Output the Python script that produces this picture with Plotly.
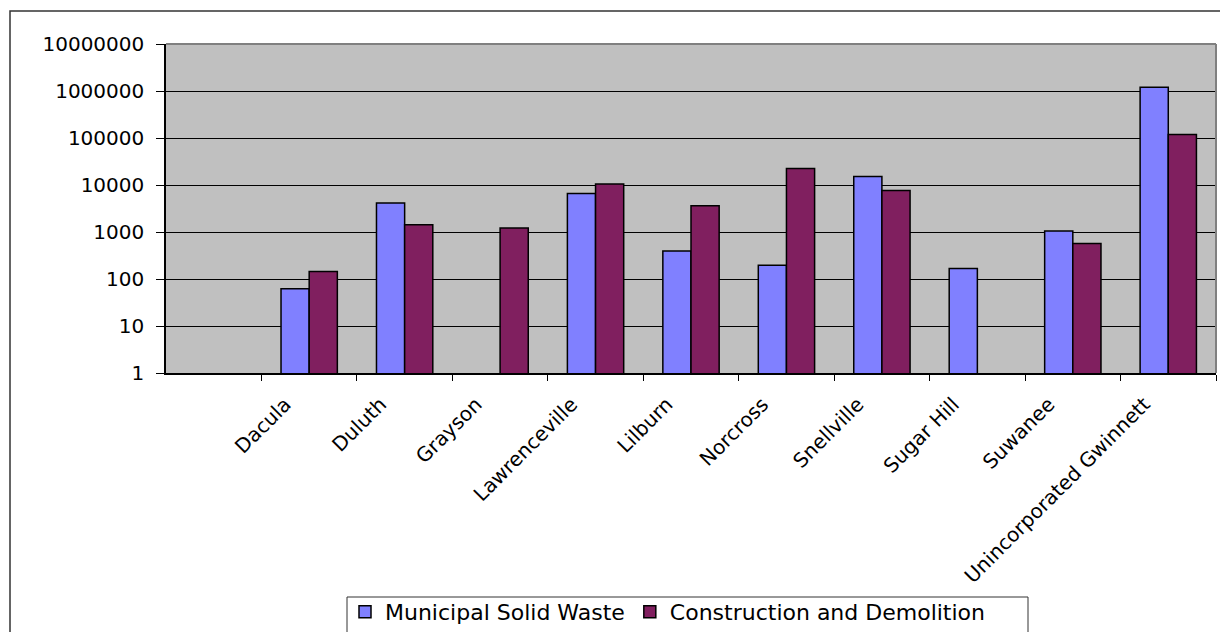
import plotly.graph_objects as go

categories = ["Dacula", "Duluth", "Grayson", "Lawrenceville", "Lilburn", "Norcross",
              "Snellville", "Sugar Hill", "Suwanee", "Unincorporated Gwinnett"]
msw = [62, 4150, None, 6600, 395, 195, 15200, 168, 1050, 1200000]
cd = [145, 1430, 1220, 10500, 3630, 22500, 7600, None, 570, 119000]
series_names = ["Municipal Solid Waste", "Construction and Demolition"]
y_ticks = [1, 10, 100, 1000, 10000, 100000, 1000000, 10000000]
y_ticktext = [str(v) for v in y_ticks]

W, H = 1220, 632
L, R, T, B = 166, 4, 44, 259
pw, ph = W - L - R, H - T - B

def px_x(x):
    return (x - L) / pw

def px_y(y):
    return (H - B - y) / ph

fig = go.Figure()
fig.add_trace(go.Bar(x=categories, y=msw, name=series_names[0],
                     marker=dict(color="#8080FF", line=dict(color="black", width=1.5))))
fig.add_trace(go.Bar(x=categories, y=cd, name=series_names[1],
                     marker=dict(color="#801F5F", line=dict(color="black", width=1.5))))

font_family = "DejaVu Sans, Arial, sans-serif"

fig.update_layout(
    width=W, height=H,
    margin=dict(l=L, r=R, t=T, b=B, autoexpand=False),
    paper_bgcolor="white",
    plot_bgcolor="#C0C0C0",
    barmode="group",
    bargap=0.41,
    bargroupgap=0.0,
    font=dict(family=font_family, size=19, color="black"),
    showlegend=True,
    legend=dict(orientation="h", x=px_x(345), y=px_y(591), xanchor="left", yanchor="top",
                borderwidth=0, bgcolor="rgba(0,0,0,0)",
                font=dict(family=font_family, size=22, color="black"),
                itemwidth=30, traceorder="normal"),
    xaxis=dict(type="category", range=[-1.5, 9.5], tickangle=-45,
               tickson="boundaries", ticks="outside", ticklen=6, tickcolor="black",
               ticklabelshift=-24, ticklabelstandoff=10,
               showline=True, linecolor="black", linewidth=1.5,
               showgrid=False, fixedrange=True,
               tickfont=dict(family=font_family, size=20, color="black")),
    yaxis=dict(type="log", range=[0, 7], tickvals=y_ticks, ticktext=y_ticktext,
               ticks="outside", ticklen=8, tickcolor="black",
               ticklabelstandoff=8,
               showline=True, linecolor="black", linewidth=1.5,
               showgrid=True, gridcolor="black", gridwidth=1,
               zeroline=False, fixedrange=True,
               tickfont=dict(family=font_family, size=20, color="black")),
)

# plot-area top and right border (grey)
fig.add_shape(type="line", xref="paper", yref="paper", x0=0, x1=1, y0=1, y1=1,
              line=dict(color="#808080", width=2))
fig.add_shape(type="line", xref="paper", yref="paper", x0=1, x1=1, y0=0, y1=1,
              line=dict(color="#808080", width=2))
# outer chart frame
fig.add_shape(type="rect", xref="paper", yref="paper",
              x0=px_x(10), x1=px_x(1235), y0=px_y(650), y1=px_y(11),
              line=dict(color="#333333", width=1.5), fillcolor="rgba(0,0,0,0)", layer="below")
# legend frame
fig.add_shape(type="rect", xref="paper", yref="paper",
              x0=px_x(347), x1=px_x(1028), y0=px_y(660), y1=px_y(597),
              line=dict(color="#333333", width=1), fillcolor="rgba(0,0,0,0)")

fig.write_html("out.html", config={"displayModeBar": False},
               post_script="document.body.style.margin='0';")
